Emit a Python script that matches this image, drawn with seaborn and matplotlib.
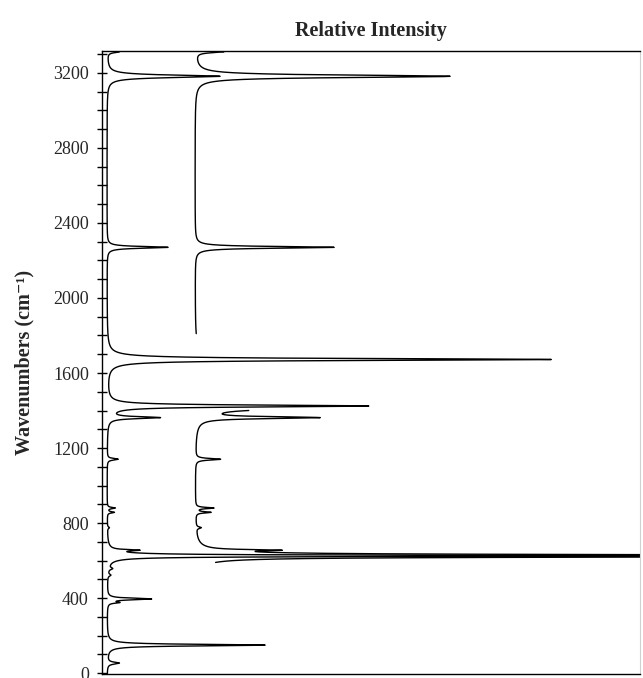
import numpy as np
import pandas as pd
import matplotlib
matplotlib.use("Agg")
import matplotlib.pyplot as plt
from matplotlib.ticker import MultipleLocator
import seaborn as sns

# Band positions (cm-1), Lorentzian half widths and relative intensities of the two spectra
band_centers = [3313, 3182, 2270, 1672, 1424, 1362, 1140, 880, 857, 775,
                655, 625, 557, 522, 395, 376, 149, 53]
band_hwhm = [6, 8, 5.5, 6, 6, 6, 5, 4, 4, 5,
             4, 3.5, 6, 6, 5, 4, 5, 6]
intensity_lower = [12, 113, 61, 444, 261, 51, 11, 8, 7, 2,
                   25, 600, 4, 3, 44, 10, 158, 12]
intensity_upper = [28, 255, 139, 500, 860, 117, 25, 18, 15, 5,
                   60, 2000, 9, 7, 100, 23, 360, 27]

# Baseline offsets of the two traces and the wavenumber ranges that are drawn
offset_lower = 5
offset_upper = 93
range_lower = (-5, 3317)
ranges_upper = [(1810, 3317), (590, 1400)]

y_ticks = [0, 400, 800, 1200, 1600, 2000, 2400, 2800, 3200]


def lorentz_sum(wn, heights):
    total = np.zeros_like(wn)
    for c, g, h in zip(band_centers, band_hwhm, heights):
        total += h * g ** 2 / ((wn - c) ** 2 + g ** 2)
    return total


sns.set_style("white")
plt.rcParams["font.family"] = ["Liberation Serif", "DejaVu Serif"]

fig = plt.figure(figsize=(6.43, 6.78), dpi=100)
ax = fig.add_axes([102 / 643, 1 - 674 / 678, 538 / 643, 623 / 678])

wn = np.arange(range_lower[0], range_lower[1] + 0.01, 0.25)
df_lower = pd.DataFrame({"wavenumber": wn,
                         "intensity": offset_lower + lorentz_sum(wn, intensity_lower)})
sns.lineplot(data=df_lower, x="intensity", y="wavenumber", sort=False,
             estimator=None, color="black", lw=1.0, ax=ax)

for lo, hi in ranges_upper:
    seg = np.arange(lo, hi + 0.01, 0.25)
    df_seg = pd.DataFrame({"wavenumber": seg,
                           "intensity": offset_upper + lorentz_sum(seg, intensity_upper)})
    sns.lineplot(data=df_seg, x="intensity", y="wavenumber", sort=False,
                 estimator=None, color="black", lw=1.0, ax=ax)

ax.set_xlim(0, 538)
ax.set_ylim(range_lower)
ax.set_xticks([])
ax.set_xlabel("")
ax.set_yticks(y_ticks)
ax.yaxis.set_minor_locator(MultipleLocator(100))
ax.tick_params(axis="y", which="both", direction="inout", length=7, width=1.0,
               color="black", left=True, labelsize=13, pad=6)
for lab in ax.get_yticklabels():
    lab.set_fontfamily(["Liberation Serif", "DejaVu Serif"])

for side in ["left", "top", "bottom"]:
    ax.spines[side].set_color("black")
    ax.spines[side].set_linewidth(1.0)
ax.spines["right"].set_color("#d0d0d0")
ax.spines["right"].set_linewidth(0.8)

ax.set_ylabel("Wavenumbers (cm\u207b\u00b9)", fontsize=14.5, fontweight="bold",
              labelpad=13)
ax.set_title("Relative Intensity", fontsize=14.5, fontweight="bold", pad=11)

fig.savefig("out.png", dpi=100)
